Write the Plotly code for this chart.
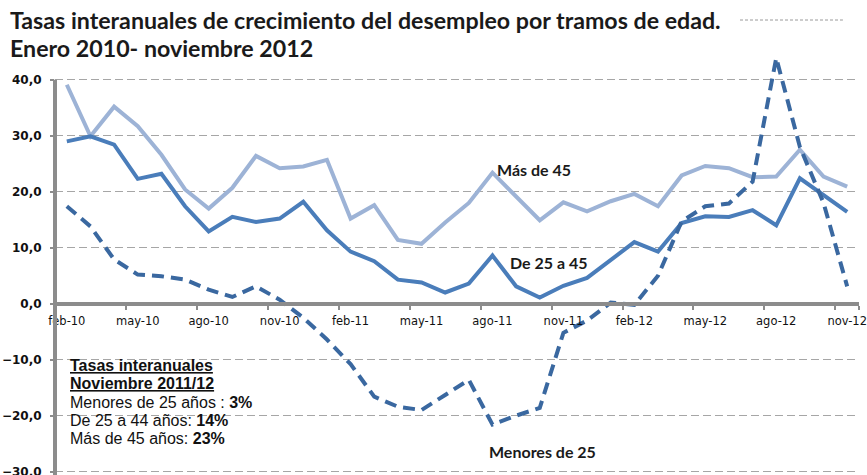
import plotly.graph_objects as go

months = ["feb-10","mar-10","abr-10","may-10","jun-10","jul-10","ago-10","sep-10","oct-10","nov-10","dic-10",
          "ene-11","feb-11","mar-11","abr-11","may-11","jun-11","jul-11","ago-11","sep-11","oct-11","nov-11","dic-11",
          "ene-12","feb-12","mar-12","abr-12","may-12","jun-12","jul-12","ago-12","sep-12","oct-12","nov-12"]
tick_labels = ["feb-10","may-10","ago-10","nov-10","feb-11","may-11","ago-11","nov-11","feb-12","may-12","ago-12","nov-12"]

mas_de_45 = [39.1, 29.9, 35.2, 31.7, 26.6, 20.4, 17.0, 20.7, 26.4, 24.2, 24.5,
             25.7, 15.2, 17.6, 11.4, 10.7, 14.5, 18.0, 23.4, 19.2, 14.9, 18.1, 16.5,
             18.3, 19.6, 17.4, 22.9, 24.6, 24.2, 22.6, 22.7, 27.5, 22.7, 20.9]
de_25_a_45 = [29.0, 29.9, 28.4, 22.3, 23.2, 17.4, 12.9, 15.5, 14.6, 15.2, 18.2,
              13.1, 9.3, 7.6, 4.3, 3.8, 2.0, 3.6, 8.6, 3.1, 1.1, 3.2, 4.6,
              7.9, 11.0, 9.3, 14.4, 15.6, 15.5, 16.7, 14.0, 22.4, 19.3, 16.4]
menores_25 = [17.4, 13.8, 7.9, 5.2, 4.9, 4.3, 2.5, 1.2, 3.1, 0.7, -2.5,
              -6.4, -10.8, -16.6, -18.4, -19.0, -16.3, -13.6, -21.6, -20.0, -18.6, -5.2, -3.0,
              0.2, -0.2, 5.0, 14.7, 17.4, 17.9, 21.8, 43.9, 28.0, 18.0, 3.1]
y_ticks = [-30, -20, -10, 0, 10, 20, 30, 40]

box_lines = [
    "<span style='text-decoration:underline'><b>Tasas interanuales</b></span>",
    "<span style='text-decoration:underline'><b>Noviembre 2011/12</b></span>",
    "Menores de 25 años : <b>3%</b>",
    "De 25 a 44 años: <b>14%</b>",
    "Más de 45 años: <b>23%</b>",
]

Y_MIN, Y_MAX = -30.6, 44.6
PLOT_TOP, PLOT_H = 54, 421.0

fig = go.Figure()
fig.add_trace(go.Scatter(x=months, y=mas_de_45, mode="lines", name="Más de 45",
                         line=dict(color="#9DB3D6", width=4)))
fig.add_trace(go.Scatter(x=months, y=de_25_a_45, mode="lines", name="De 25 a 45",
                         line=dict(color="#4A7DBA", width=4)))
fig.add_trace(go.Scatter(x=months, y=menores_25, mode="lines", name="Menores de 25",
                         line=dict(color="#3A68A0", width=4, dash="12px,7px")))

zero_pos = (0 - Y_MIN) / (Y_MAX - Y_MIN)
top40 = (40 - Y_MIN) / (Y_MAX - Y_MIN)

def py2paper(py):
    return (PLOT_TOP + PLOT_H - py) / PLOT_H

annotations = [
    dict(text="<b>Tasas interanuales de crecimiento del desempleo por tramos de edad.</b>",
         xref="paper", yref="paper", x=-47/804, y=py2paper(20),
         xanchor="left", yanchor="middle", showarrow=False,
         font=dict(family="Lato", size=23.2, color="#1a1a1a")),
    dict(text="<b>Enero 2010- noviembre 2012</b>",
         xref="paper", yref="paper", x=-47/804, y=py2paper(48),
         xanchor="left", yanchor="middle", showarrow=False,
         font=dict(family="Lato", size=23.2, color="#1a1a1a")),
    dict(text="<b>Más de 45</b>", x=19.75, y=23.9, xref="x", yref="y", showarrow=False,
         font=dict(family="Lato", size=16, color="#1a1a1a")),
    dict(text="<b>De 25 a 45</b>", x=20.4, y=7.3, xref="x", yref="y", showarrow=False,
         font=dict(family="Lato", size=16, color="#1a1a1a")),
    dict(text="<b>Menores de 25</b>", x=20.1, y=-26.4, xref="x", yref="y", showarrow=False,
         font=dict(family="Lato", size=16, color="#1a1a1a")),
]
box_px = [365, 383, 402, 420, 438]
for txt, py in zip(box_lines, box_px):
    annotations.append(dict(text=txt, xref="paper", yref="paper", x=13/804,
                            y=py2paper(py),
                            xanchor="left", yanchor="middle", align="left", showarrow=False,
                            font=dict(family="Liberation Sans", size=16, color="#111111")))

fig.update_layout(
    width=867, height=475,
    margin=dict(l=55, r=8, t=PLOT_TOP, b=475 - PLOT_TOP - PLOT_H),
    paper_bgcolor="white", plot_bgcolor="white",
    showlegend=False,
    separators=",.",
    xaxis=dict(type="category", categoryorder="array", categoryarray=months,
               range=[-0.5, 33.5], tickmode="array", tickvals=tick_labels, tickangle=0,
               tickson="boundaries", ticks="outside", ticklen=4, tickwidth=2, tickcolor="#8c8c8c",
               showgrid=False, showline=True, linecolor="#8c8c8c", linewidth=4,
               anchor="free", position=zero_pos, zeroline=False, automargin=False,
               ticklabelstandoff=6, ticklabeloverflow="allow",
               tickfont=dict(family="DejaVu Sans", size=11.5, color="#111111")),
    yaxis=dict(range=[Y_MIN, Y_MAX], tickmode="array", tickvals=y_ticks, tickformat=".1f",
               showgrid=True, gridcolor="#a6a6a6", griddash="8px,4px", gridwidth=1,
               zeroline=False, showline=False, ticks="outside", ticklen=4, tickwidth=2,
               tickcolor="#8c8c8c", automargin=False, ticklabelstandoff=6,
               ticklabeloverflow="allow",
               tickfont=dict(family="DejaVu Sans", size=12, color="#111111", weight="bold")),
    shapes=[
        dict(type="line", xref="paper", yref="paper", x0=0, x1=0, y0=0, y1=top40,
             line=dict(color="#8c8c8c", width=4)),
        dict(type="line", xref="paper", yref="paper", x0=0.852, x1=0.980,
             y0=py2paper(20), y1=py2paper(20),
             line=dict(color="#9a9a9a", width=1, dash="3px,2px")),
    ],
    annotations=annotations,
)

fig.write_html("out.html", config={"displayModeBar": False},
               post_script="document.body.style.margin='0';")
